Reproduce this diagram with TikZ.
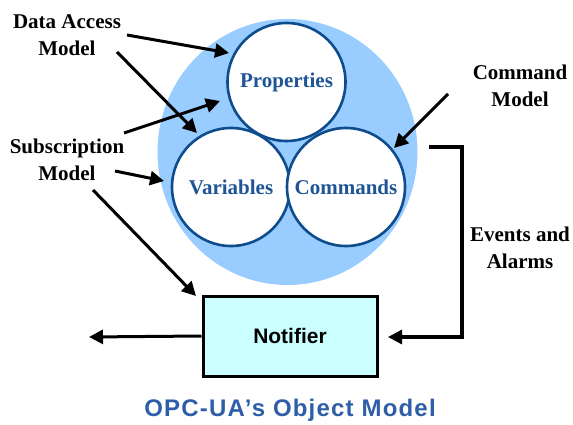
\documentclass[tikz,border=0pt]{standalone}
\usepackage{fontspec}
\setmainfont{Liberation Serif}
\setsansfont{Liberation Sans}
\usetikzlibrary{arrows.meta}
\definecolor{bigblue}{HTML}{99CCFF}
\definecolor{ringblue}{HTML}{0E4C8E}
\definecolor{txtblue}{HTML}{1F5596}
\definecolor{titleblue}{HTML}{2E5EA8}
\definecolor{notefill}{HTML}{CCFFFF}
\tikzset{
  inner/.style={circle, draw=ringblue, line width=2.6pt, fill=white, minimum size=118pt, inner sep=0pt,
    text=txtblue, font=\fontsize{21}{23}\selectfont\bfseries},
  lbl/.style={align=center, font=\fontsize{21}{27}\selectfont\bfseries, text=black},
  arr/.style={line width=3pt, -{Triangle[length=14pt,width=14pt]}},
  conn/.style={line width=3.2pt},
}
\begin{document}
\begin{tikzpicture}[x=1pt,y=-1pt]
\useasboundingbox (0,0) rectangle (573,425);
\fill[bigblue] (287.5,152) ellipse [x radius=130, y radius=133];
\node[inner] (prop) at (286.5,82) {Properties};
\node[inner] (var) at (231,187) {Variables};
\node[inner] (cmd) at (346,187) {Commands};
\node[draw=black, line width=3pt, fill=notefill, minimum width=174pt, minimum height=80pt, inner sep=0pt,
  font=\fontsize{21}{23}\selectfont\sffamily\bfseries] (note) at (290,336) {Notifier};
\node[lbl] (dam) at (67,35) {Data Access\\Model};
\node[lbl] (sub) at (67,160) {Subscription\\Model};
\node[lbl] (cm) at (520,86) {Command\\Model};
\node[lbl] (ea) at (520,248) {Events and\\Alarms};
\node[font=\fontsize{24}{26}\selectfont\sffamily\bfseries\addfontfeature{LetterSpace=5}, text=titleblue] (title) at (290,410) {OPC-UA’s Object Model};
\coordinate (d1) at (127,35);
\coordinate (d1e) at (229,53);
\coordinate (d2) at (117,52);
\coordinate (d2e) at (197,133);
\coordinate (s1) at (124,133);
\coordinate (s1e) at (220,101);
\coordinate (s2) at (115,171);
\coordinate (s2e) at (164,181);
\coordinate (s3) at (93,190);
\coordinate (s3e) at (196,296);
\coordinate (c1) at (448,94);
\coordinate (c1e) at (394,148);
\coordinate (outL) at (89,337);
\coordinate (evA) at (429,147);
\coordinate (evB) at (462,147);
\coordinate (evC) at (462,337);
\coordinate (evD) at (388,337);
\draw[arr] (d1) -- (d1e);
\draw[arr] (d2) -- (d2e);
\draw[arr] (s1) -- (s1e);
\draw[arr] (s2) -- (s2e);
\draw[arr] (s3) -- (s3e);
\draw[arr] (c1) -- (c1e);
\draw[arr] (note.west) -- (outL);
\draw[conn, -{Triangle[length=14pt,width=14pt]}] (evA) -- (evB) -- (evC) -- (evD);
\end{tikzpicture}
\end{document}
